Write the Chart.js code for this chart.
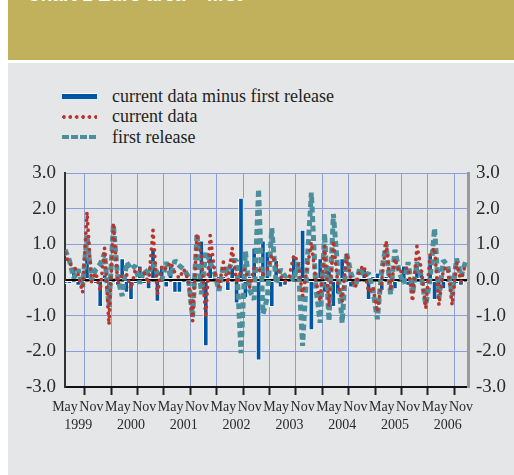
<!DOCTYPE html>
<html>
<head>
<meta charset="utf-8">
<script src="https://cdn.jsdelivr.net/npm/chart.js@4/dist/chart.umd.min.js"></script>
<style>
  body { margin: 0; width: 514px; height: 475px; background: #fff; position: relative; overflow: hidden; }
  #header { position: absolute; left: 8px; top: 0; width: 506px; height: 60px; background: #c2b15c; overflow: hidden; }
  #header span { position: absolute; left: 19px; top: -16px; color: #fff; font: bold 19px 'Liberation Sans', sans-serif; white-space: nowrap; }
  #panel { position: absolute; left: 8px; top: 63px; width: 506px; height: 412px; background: #e5e6e7; }
  #legend { position: absolute; left: 62px; top: 86px; font: 18px 'Liberation Serif', serif; color: #231f20; }
  #myChart { position: absolute; left: 0; top: 0; }
</style>
</head>
<body>
<div id="header"><span>Chart 1 Euro area – first</span></div>
<div id="panel"></div>
<div id="legend"></div>
<canvas id="myChart" width="514" height="475"></canvas>
<script>
// monthly, index 0 = May 1999
const firstRelease = [
  0.85, 0.55, 0.05, 0.30, -0.20, 1.25, 0.00, 0.30, 0.45, 0.75,
  -0.75, 1.55, 0.05, -0.45, 0.50, 0.30, 0.40, -0.10, 0.30, 0.15,
  0.50, 0.20, 0.00, 0.50, 0.10, 0.55, 0.40, 0.30, 0.10, -1.05,
  1.30, -0.40, 0.80, 0.50, 0.20, -0.30, 0.40, 0.20, 0.55, 0.55,
  -2.05, 0.80, -0.30, -0.55, 2.55, -0.95, -0.50, 1.45, -0.10, 0.30,
  0.10, 0.15, 0.00, 0.50, -1.85, 0.40, 2.45, -0.20, -1.20, 1.30,
  -1.15, 1.85, 0.30, -1.20, 0.75, 0.20, -0.20, 0.35, 0.10, 0.20,
  -0.30, -1.10, 0.30, 1.00, -0.40, 0.85, 0.20, -0.10, 0.50, -0.40,
  0.50, 0.10, -0.70, 0.05, 1.45, -0.50, 0.55, 0.40, -0.45, 0.60,
  0.10, 0.50
];
const currentData = [
  0.75, 0.45, 0.40, 0.15, -0.35, 1.90, -0.05, 0.20, -0.30, 0.90,
  -1.25, 1.60, -0.10, 0.15, 0.15, -0.25, 0.30, 0.30, 0.20, -0.10,
  1.40, -0.40, 0.40, 0.30, 0.50, 0.20, 0.05, 0.30, 0.00, -1.15,
  1.30, 0.70, -1.05, 1.25, 0.25, -0.20, 0.50, -0.10, 0.90, -0.10,
  0.25, 0.30, -0.20, 0.35, 0.30, 0.15, 0.30, 0.70, 0.45, 0.10,
  -0.05, 0.10, 0.70, 0.50, -0.45, 0.30, 1.05, 0.00, -0.60, 0.95,
  -0.75, 1.10, -0.10, -0.60, 0.75, 0.00, -0.20, 0.30, 0.40, -0.35,
  -0.20, -0.90, 0.00, 1.10, -0.30, 0.60, 0.20, 0.30, 0.35, -0.60,
  0.95, 0.30, -0.80, 0.75, 0.90, -0.70, 0.30, 0.35, -0.70, 0.50,
  -0.05, 0.45
];
const revision = [
  -0.10, -0.10, 0.35, -0.15, -0.15, 0.65, -0.05, -0.10, -0.75, 0.15,
  -0.50, 0.05, -0.15, 0.60, -0.35, -0.55, -0.10, 0.40, -0.10, -0.25,
  0.90, -0.60, 0.40, -0.20, 0.40, -0.35, -0.35, 0.00, -0.10, -0.10,
  0.00, 1.10, -1.85, 0.75, 0.05, 0.10, 0.10, -0.30, 0.35, -0.65,
  2.30, -0.50, 0.10, 0.90, -2.25, 1.10, 0.80, -0.75, 0.55, -0.20,
  -0.15, -0.05, 0.70, 0.00, 1.40, -0.10, -1.40, 0.20, 0.60, -0.35,
  0.40, -0.75, -0.40, 0.60, 0.00, -0.20, 0.00, -0.05, 0.30, -0.55,
  0.10, 0.20, -0.30, 0.10, 0.10, -0.25, 0.00, 0.40, -0.15, -0.20,
  0.45, 0.20, -0.10, 0.70, -0.55, -0.20, -0.25, -0.05, -0.25, -0.10,
  -0.15, -0.05
];
const seriesLabels = ['current data minus first release', 'current data', 'first release'];
const firstYear = 1999;
const tickMonths = [];
for (let m = 0; m <= 90; m += 3) tickMonths.push(m);
const yTicks = [-3, -2, -1, 0, 1, 2, 3];

const blue = '#0055a5';
const red = '#b5372e';
const teal = '#4b8e9c';
const gridBlue = '#8d9dd6';
const labelColor = '#2a2a2a';

const toPoints = (arr) => arr.map((y, i) => ({ x: i, y: y }));

const legendStyles = [
  { height: '5px', background: blue, boxShadow: '0 -1px 0 #fff' },
  { height: '4px', background: 'radial-gradient(circle at 2px 2px, ' + red + ' 1.6px, transparent 2.1px) 0 0 / 6.4px 4px repeat-x' },
  { height: '4px', background: 'linear-gradient(to right, ' + teal + ' 7px, transparent 7px) 0 0 / 9px 4px repeat-x' },
];

const getOrCreateLegendList = (id) => {
  const legendContainer = document.getElementById(id);
  let listContainer = legendContainer.querySelector('ul');
  if (!listContainer) {
    listContainer = document.createElement('ul');
    listContainer.style.display = 'flex';
    listContainer.style.flexDirection = 'column';
    listContainer.style.margin = 0;
    listContainer.style.padding = 0;
    listContainer.style.listStyle = 'none';
    legendContainer.appendChild(listContainer);
  }
  return listContainer;
};

const htmlLegendPlugin = {
  id: 'htmlLegend',
  afterUpdate(chart, args, options) {
    const ul = getOrCreateLegendList(options.containerID);
    while (ul.firstChild) {
      ul.firstChild.remove();
    }
    chart.data.datasets.forEach((ds, index) => {
      const li = document.createElement('li');
      li.style.display = 'flex';
      li.style.alignItems = 'center';
      li.style.height = '20.5px';

      // sample
      const boxSpan = document.createElement('span');
      boxSpan.style.display = 'inline-block';
      boxSpan.style.width = '35px';
      boxSpan.style.marginRight = '15px';
      boxSpan.style.flexShrink = 0;
      Object.assign(boxSpan.style, legendStyles[index]);

      const text = document.createElement('span');
      text.textContent = ds.label;

      li.appendChild(boxSpan);
      li.appendChild(text);
      ul.appendChild(li);
    });
  },
};

const yTickOptions = {
  color: labelColor,
  font: { family: "'Liberation Serif', serif", size: 19 },
  callback: (v) => v.toFixed(1),
};

new Chart(document.getElementById('myChart'), {
  type: 'bar',
  data: {
    datasets: [
      {
        label: seriesLabels[0],
        data: toPoints(revision),
        backgroundColor: blue,
        borderColor: '#fff',
        borderWidth: 1,
        borderSkipped: false,
        barThickness: 5,
        order: 2,
      },
      {
        type: 'line',
        label: seriesLabels[1],
        data: toPoints(currentData),
        borderColor: red,
        borderWidth: 3.8,
        borderDash: [0, 6.5],
        borderCapStyle: 'round',
        borderJoinStyle: 'round',
        pointRadius: 0,
        tension: 0,
        order: 0,
      },
      {
        type: 'line',
        label: seriesLabels[2],
        data: toPoints(firstRelease),
        borderColor: teal,
        borderWidth: 5,
        borderDash: [6, 3.5],
        borderJoinStyle: 'bevel',
        pointRadius: 0,
        tension: 0,
        order: 1,
      },
    ],
  },
  options: {
    responsive: false,
    animation: false,
    layout: { padding: { top: 173, left: 0, right: 0, bottom: 0 } },
    plugins: {
      legend: { display: false },
      tooltip: { enabled: false },
      htmlLegend: { containerID: 'legend' },
    },
    scales: {
      x: {
        type: 'linear',
        min: 0,
        max: 91.6,
        offset: false,
        afterBuildTicks: (scale) => {
          scale.ticks = tickMonths.map((v) => ({ value: v }));
        },
        afterFit: (scale) => {
          scale.height = 88;
        },
        ticks: {
          autoSkip: false,
          maxRotation: 0,
          padding: 3,
          color: labelColor,
          font: { family: "'Liberation Serif', serif", size: 14, lineHeight: 1.3 },
          callback: (v) => {
            const m = v % 12;
            if (m === 0) return 'May';
            if (m === 6) return 'Nov';
            if (m === 3) return ['', String(firstYear + Math.floor(v / 12))];
            return '';
          },
        },
        grid: {
          color: (ctx) => (ctx.tick && ctx.tick.value % 6 === 0 ? gridBlue : 'transparent'),
          tickColor: (ctx) => (ctx.tick && ctx.tick.value % 6 === 0 ? '#222' : 'transparent'),
          tickLength: 8,
          tickWidth: 2,
        },
        border: { color: '#111', width: 2 },
      },
      y: {
        position: 'left',
        min: -3,
        max: 3,
        afterBuildTicks: (scale) => {
          scale.ticks = yTicks.map((v) => ({ value: v }));
        },
        afterFit: (scale) => {
          scale.width = 65;
        },
        ticks: Object.assign({ padding: 9 }, yTickOptions),
        grid: {
          color: (ctx) => (ctx.tick && ctx.tick.value === 0 ? '#000' : gridBlue),
          lineWidth: (ctx) => (ctx.tick && ctx.tick.value === 0 ? 2.5 : 1),
          drawTicks: false,
        },
        border: { color: '#333', width: 2 },
      },
      y2: {
        position: 'right',
        min: -3,
        max: 3,
        afterBuildTicks: (scale) => {
          scale.ticks = yTicks.map((v) => ({ value: v }));
        },
        afterFit: (scale) => {
          scale.width = 46;
        },
        ticks: Object.assign({ padding: 8 }, yTickOptions),
        grid: { color: 'transparent', drawOnChartArea: false, drawTicks: false },
        border: { color: '#9a9a9a', width: 3 },
      },
    },
  },
  plugins: [htmlLegendPlugin],
});
</script>
</body>
</html>
